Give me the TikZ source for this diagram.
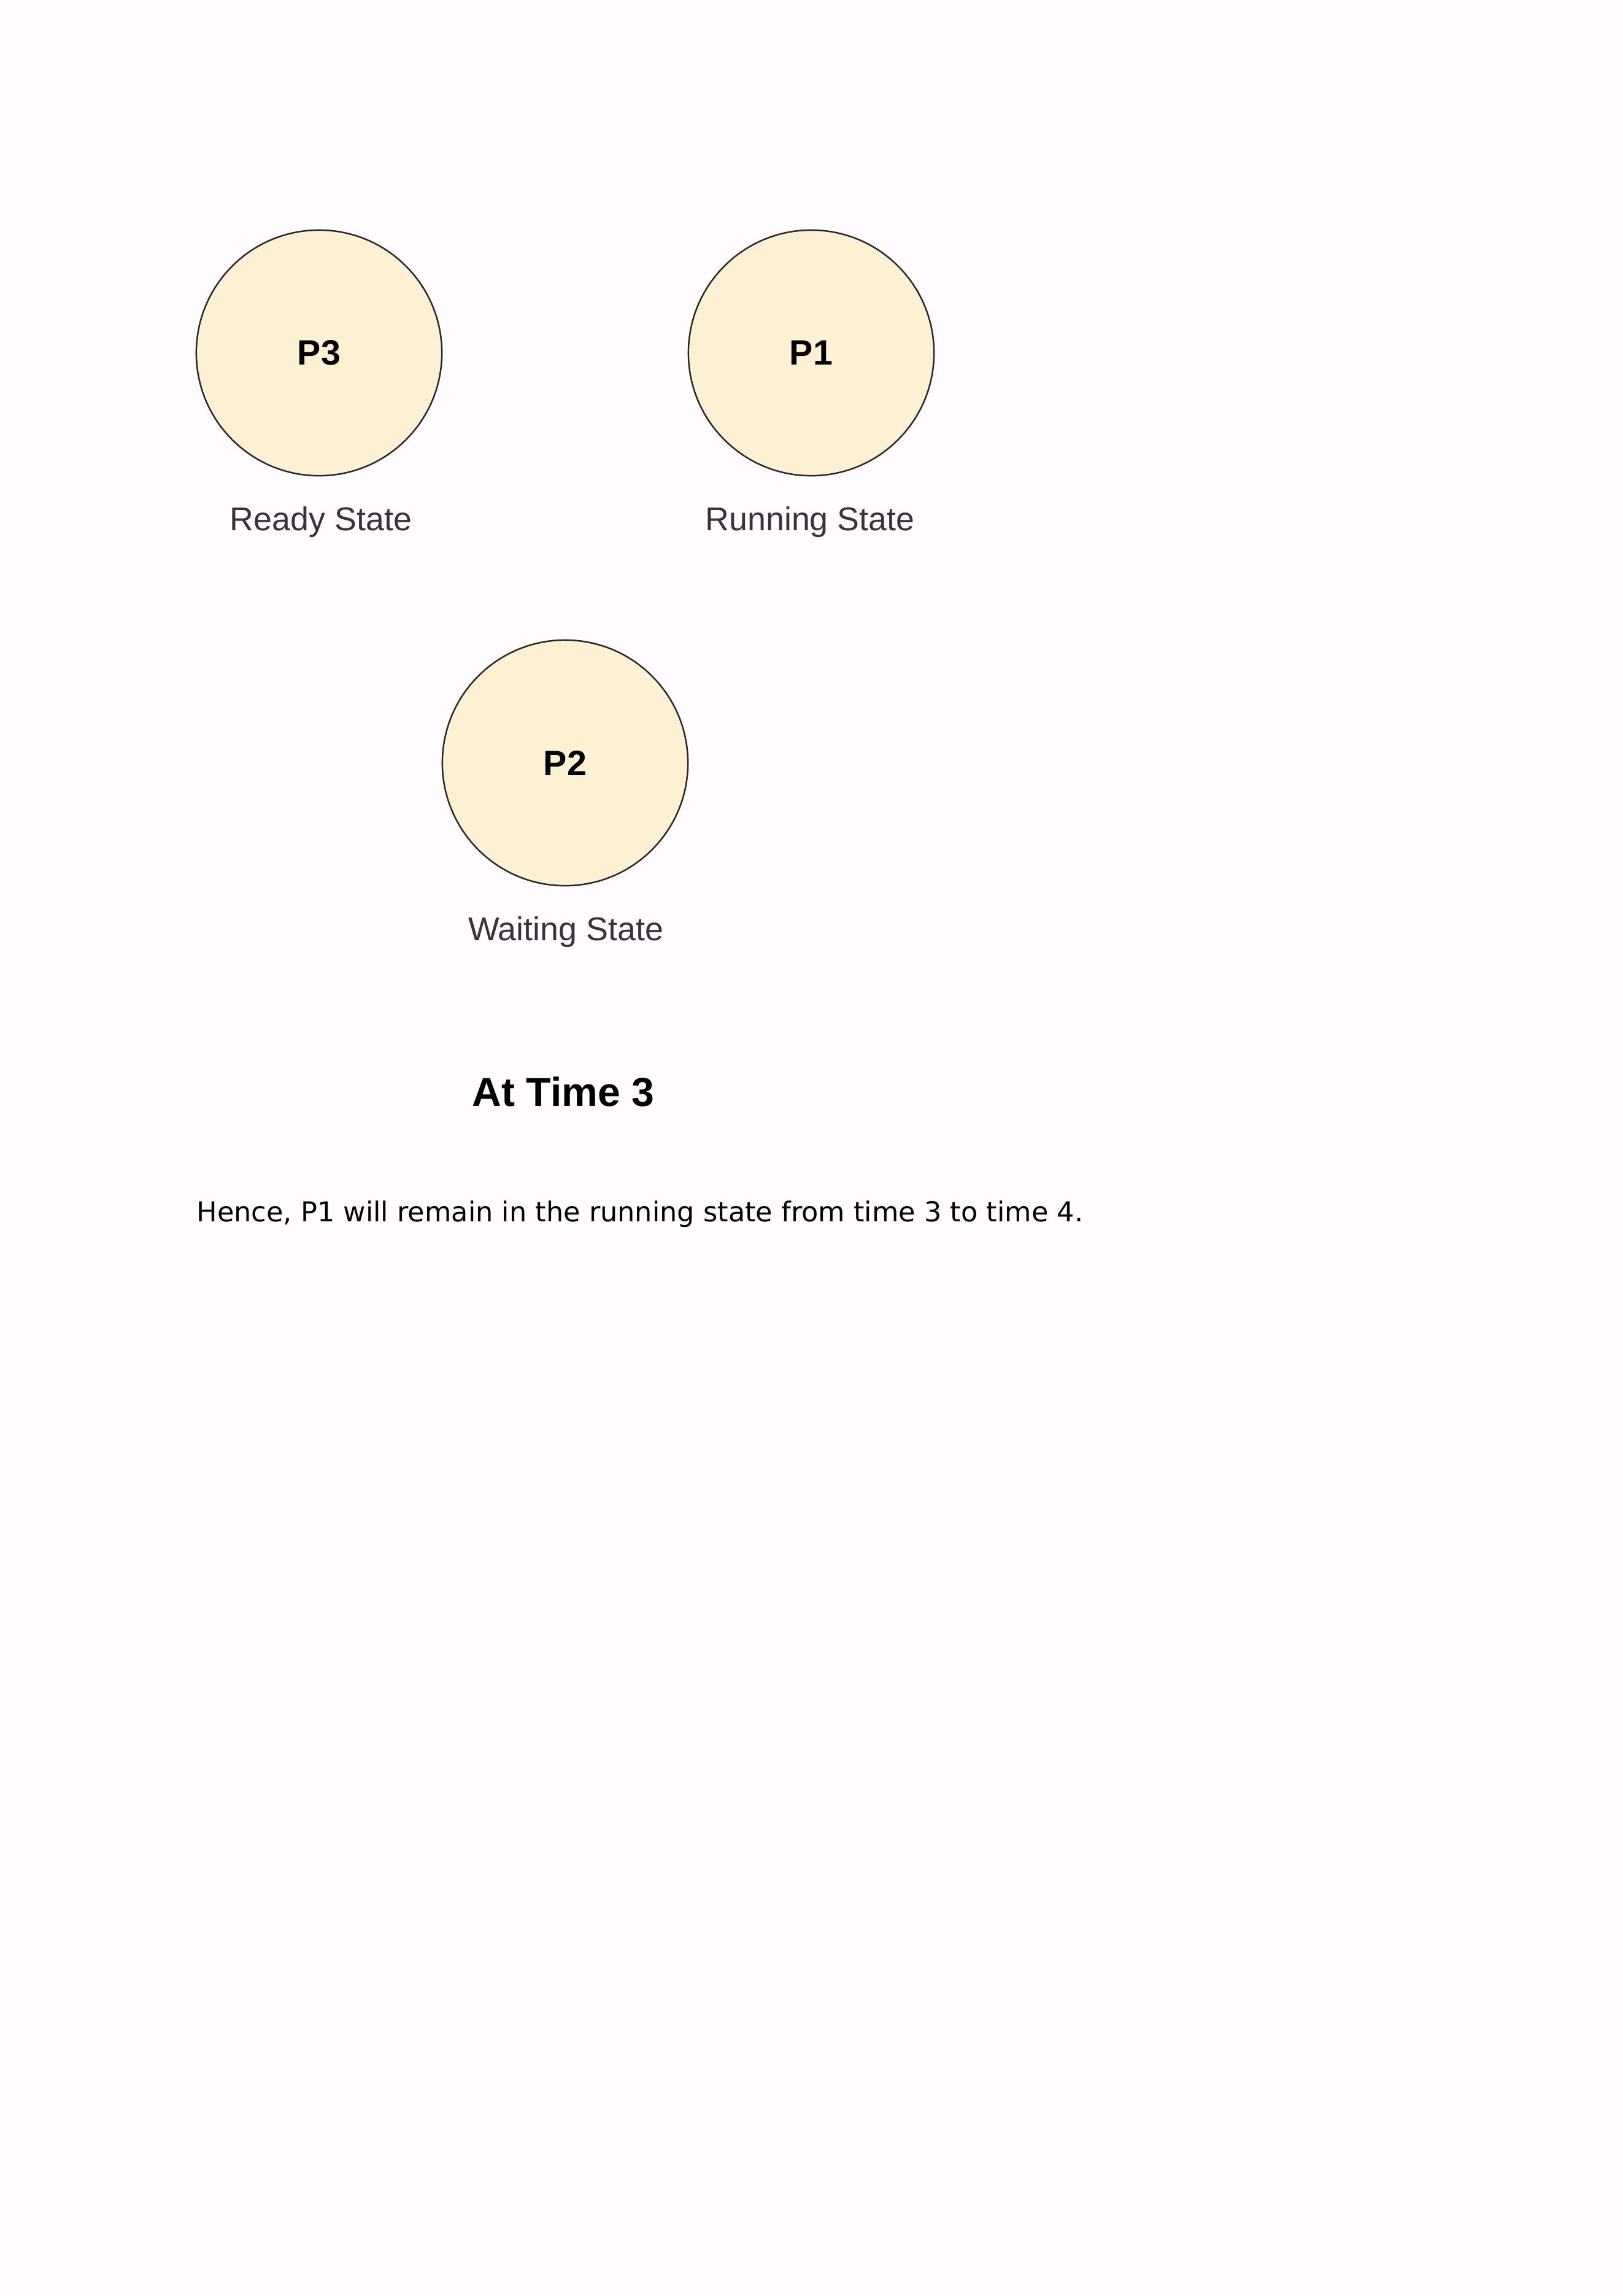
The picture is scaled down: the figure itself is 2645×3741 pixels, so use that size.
\documentclass[tikz,border=0pt]{standalone}
\usepackage{fontspec}
\setmainfont{Liberation Sans}
\newfontfamily\dejavu{DejaVu Sans}
\definecolor{pagebg}{HTML}{FFFBFE}
\definecolor{procfill}{HTML}{FEF1D3}
\definecolor{labelgray}{HTML}{383338}
\tikzset{
  proc/.style={circle,draw=black!85,line width=0.7pt,fill=procfill,minimum size=4cm,inner sep=0pt,font=\fontsize{16.3}{18}\selectfont\bfseries},
  statelabel/.style={anchor=base,inner sep=0pt,text=labelgray,font=\fontsize{15.3}{18}\selectfont},
}
\begin{document}
\begin{tikzpicture}[x=0.01cm,y=-0.01cm]
	\fill[pagebg] (0,0) rectangle (2645,3741);
	\node[proc] (p3) at (520,575) {P3};
	\node[proc] (p1) at (1322,575) {P1};
	\node[proc] (p2) at (921,1243) {P2};
	\node[statelabel] (ready) at (523,864) {Ready State};
	\node[statelabel] (running) at (1320,864) {Running State};
	\node[statelabel] (waiting) at (922,1532) {Waiting State};
	\node[anchor=base,inner sep=0pt,font=\fontsize{18.8}{22}\selectfont\bfseries] (title) at (918,1802) {At Time 3};
	\node[anchor=base west,inner sep=0pt,font=\dejavu\fontsize{12.68}{15}\selectfont] (hence) at (320,1990) {Hence, P1 will remain in the running state from time 3 to time 4.};
\end{tikzpicture}
\end{document}
